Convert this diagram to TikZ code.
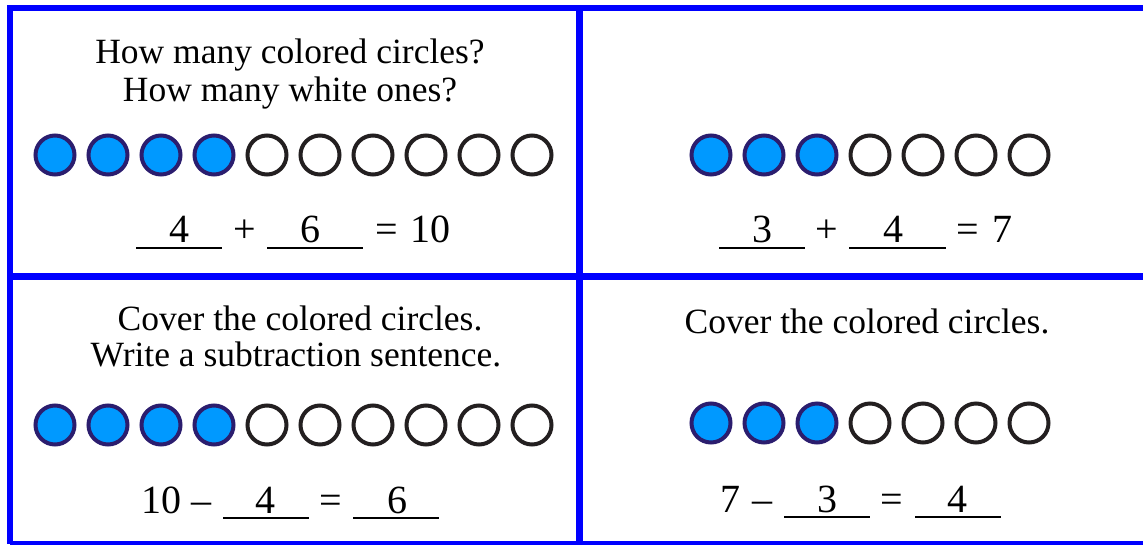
\documentclass[tikz,border=0pt]{standalone}
\usepackage{fontspec}
\setmainfont{Liberation Serif}
\definecolor{framebl}{RGB}{0,0,255}
\definecolor{dotfill}{RGB}{0,153,255}
\definecolor{dotline}{RGB}{43,29,110}
\definecolor{ringline}{RGB}{35,31,32}
\tikzset{
  frameline/.style={draw=framebl, line width=6pt},
  innerline/.style={draw=framebl, line width=7pt},
  colc/.style={circle, draw=dotline, fill=dotfill, line width=4pt, minimum size=39pt, inner sep=0pt},
  whc/.style={circle, draw=ringline, fill=white, line width=4pt, minimum size=39pt, inner sep=0pt},
  prompt/.style={anchor=base, inner sep=0pt, font=\fontsize{35.5}{40}\selectfont},
  eq/.style={anchor=base, inner sep=0pt, font=\fontsize{40}{44}\selectfont},
  blank/.style={draw=black, line width=2.7pt}
}
\begin{document}
\begin{tikzpicture}[x=1pt, y=-1pt]
\useasboundingbox (0,0) rectangle (1143,544);
% frame
\draw[frameline] (9.5,543.5) -- (9.5,7.5) -- (1160,7.5);
\draw[frameline] (9.5,543.5) -- (1160,543.5);
\draw[innerline] (579.7,7.5) -- (579.7,543.5);
\draw[innerline] (9.5,276) -- (1160,276);

% ---------- top left ----------
\node[prompt] (tlq1) at (290,63) {How many colored circles?};
\node[prompt] (tlq2) at (290,101) {How many white ones?};
\foreach \k in {0,...,9}{
  \ifnum\k<4
    \node[colc] (tlc\k) at (55+53*\k,155) {};
  \else
    \node[whc] (tlc\k) at (55+53*\k,155) {};
  \fi
}
\node[eq] (tla) at (179,242) {4};
\node[eq] (tlp) at (245,242) {+};
\node[eq] (tlb) at (310,242) {6};
\node[eq] (tle) at (387,242) {=};
\node[eq] (tlr) at (430,242) {10};
\draw[blank] (136,248) -- (222,248);
\draw[blank] (267,248) -- (363,248);

% ---------- top right ----------
\foreach \k in {0,...,6}{
  \ifnum\k<3
    \node[colc] (trc\k) at (711+53*\k,155) {};
  \else
    \node[whc] (trc\k) at (711+53*\k,155) {};
  \fi
}
\node[eq] (tra) at (762,242) {3};
\node[eq] (trp) at (827,242) {+};
\node[eq] (trb) at (893,242) {4};
\node[eq] (tre) at (968,242) {=};
\node[eq] (trr) at (1002,242) {7};
\draw[blank] (719,248) -- (805,248);
\draw[blank] (849,248) -- (946,248);

% ---------- bottom left ----------
\node[prompt] (blq1) at (300,330) {Cover the colored circles.};
\node[prompt] (blq2) at (296,366) {Write a subtraction sentence.};
\foreach \k in {0,...,9}{
  \ifnum\k<4
    \node[colc] (blc\k) at (55+53*\k,425) {};
  \else
    \node[whc] (blc\k) at (55+53*\k,425) {};
  \fi
}
\node[eq] (bla) at (161,513) {10};
\node[eq] (blm) at (201,513) {–};
\node[eq] (blb) at (265,513) {4};
\node[eq] (ble) at (331,513) {=};
\node[eq] (blr) at (397,513) {6};
\draw[blank] (223,518) -- (309,518);
\draw[blank] (353,518) -- (439,518);

% ---------- bottom right ----------
\node[prompt] (brq1) at (867,333) {Cover the colored circles.};
\foreach \k in {0,...,6}{
  \ifnum\k<3
    \node[colc] (brc\k) at (711+53*\k,423) {};
  \else
    \node[whc] (brc\k) at (711+53*\k,423) {};
  \fi
}
\node[eq] (bra) at (730,512) {7};
\node[eq] (brm) at (762,512) {–};
\node[eq] (brb) at (827,512) {3};
\node[eq] (bre) at (892,512) {=};
\node[eq] (brr) at (957,512) {4};
\draw[blank] (784,517) -- (870,517);
\draw[blank] (915,517) -- (1001,517);
\end{tikzpicture}
\end{document}
